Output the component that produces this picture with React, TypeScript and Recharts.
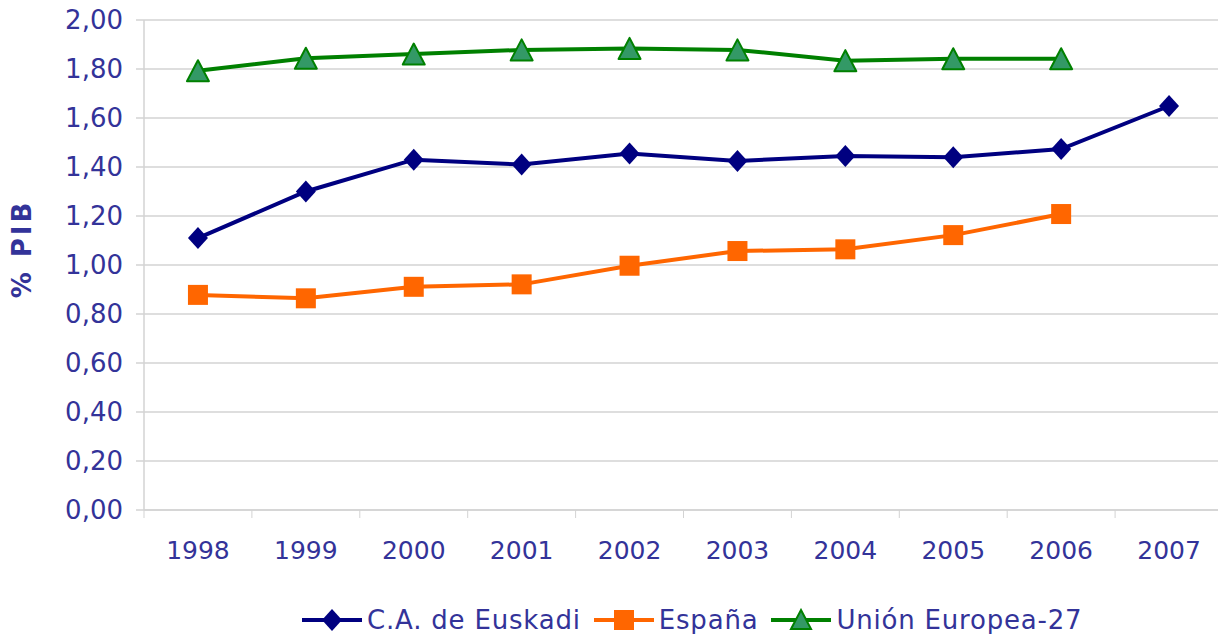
import { LineChart, Line, XAxis, YAxis, CartesianGrid, Legend, Label } from 'recharts'

const years = ['1998', '1999', '2000', '2001', '2002', '2003', '2004', '2005', '2006', '2007']
const euskadi = [1.11, 1.3, 1.43, 1.41, 1.455, 1.425, 1.445, 1.44, 1.473, 1.649]
const espana = [0.878, 0.864, 0.911, 0.921, 0.997, 1.057, 1.064, 1.122, 1.208, null]
const ue27 = [1.793, 1.844, 1.861, 1.878, 1.884, 1.878, 1.834, 1.842, 1.842, null]
const yTicks = [0, 0.2, 0.4, 0.6, 0.8, 1, 1.2, 1.4, 1.6, 1.8, 2]

const data = years.map((year, i) => ({
  year,
  euskadi: euskadi[i],
  espana: espana[i],
  ue27: ue27[i],
}))

const FONT = '"DejaVu Sans", Verdana, sans-serif'
const TEXT = '#333399'
const GRID = '#d3d3d3'
const NAVY = '#000080'
const ORANGE = '#ff6600'
const GREEN = '#008000'
const GREEN_FILL = '#339966'

const STEP = 1079 / years.length
const TICK_SIZE = 8
const TICK_MARGIN = 23

const fmt = (v: number) => v.toFixed(2).replace('.', ',')

function Diamond({ cx, cy }: any) {
  if (cx == null || cy == null) return null
  return <polygon points={`${cx},${cy - 11} ${cx + 10},${cy} ${cx},${cy + 11} ${cx - 10},${cy}`} fill={NAVY} />
}

function Square({ cx, cy }: any) {
  if (cx == null || cy == null) return null
  return <rect x={cx - 10} y={cy - 10} width={20} height={20} fill={ORANGE} />
}

function Triangle({ cx, cy }: any) {
  if (cx == null || cy == null) return null
  return (
    <polygon
      points={`${cx},${cy - 10.5} ${cx + 11},${cy + 10.5} ${cx - 11},${cy + 10.5}`}
      fill={GREEN_FILL}
      stroke={GREEN}
      strokeWidth={2}
      strokeLinejoin="round"
    />
  )
}

// category labels plus Excel-style tick marks between the categories
function YearTick({ x, y, payload, index }: any) {
  const axisY = y - TICK_SIZE - TICK_MARGIN
  const left = x - STEP / 2
  return (
    <g>
      <line x1={left} y1={axisY} x2={left} y2={axisY + TICK_SIZE} stroke={GRID} />
      {index === years.length - 1 && (
        <line x1={x + STEP / 2} y1={axisY} x2={x + STEP / 2} y2={axisY + TICK_SIZE} stroke={GRID} />
      )}
      <text x={x} y={y} dy="0.71em" textAnchor="middle" fill={TEXT} fontSize={25} fontFamily={FONT}>
        {payload.value}
      </text>
    </g>
  )
}

const legendItems = [
  { label: 'C.A. de Euskadi', color: NAVY, shape: 'diamond' },
  { label: 'España', color: ORANGE, shape: 'square' },
  { label: 'Unión Europea-27', color: GREEN, shape: 'triangle' },
]

function LegendIcon({ color, shape }: { color: string; shape: string }) {
  return (
    <svg width={60} height={24} style={{ display: 'block' }}>
      <line x1={0} y1={12} x2={60} y2={12} stroke={color} strokeWidth={4} />
      {shape === 'diamond' && <polygon points="30,1 40,12 30,23 20,12" fill={NAVY} />}
      {shape === 'square' && <rect x={20} y={2} width={20} height={20} fill={ORANGE} />}
      {shape === 'triangle' && (
        <polygon points="30,2 40,21 20,21" fill={GREEN_FILL} stroke={GREEN} strokeWidth={2} />
      )}
    </svg>
  )
}

function ChartLegend() {
  return (
    <div
      style={{
        height: 40,
        paddingTop: 14,
        paddingLeft: 302,
        boxSizing: 'border-box',
        display: 'flex',
        alignItems: 'flex-start',
        fontFamily: FONT,
        fontSize: 26,
        letterSpacing: 0.8,
        color: TEXT,
      }}
    >
      {legendItems.map((item) => (
        <div key={item.label} style={{ display: 'flex', alignItems: 'center', height: 24, marginRight: 13 }}>
          <LegendIcon color={item.color} shape={item.shape} />
          <span style={{ marginLeft: 5, lineHeight: '24px', whiteSpace: 'nowrap' }}>{item.label}</span>
        </div>
      ))}
    </div>
  )
}

export default function App() {
  return (
    <div style={{ width: 1218, height: 634, overflow: 'hidden', background: '#fff' }}>
      <style>{'body{margin:0}'}</style>
      <LineChart width={1223} height={634} data={data} margin={{ top: 20, right: 0, left: 0, bottom: 24 }}>
        <CartesianGrid vertical={false} stroke={GRID} strokeWidth={1.5} />
        <XAxis
          dataKey="year"
          height={60}
          padding={{ left: STEP / 2, right: STEP / 2 }}
          axisLine={{ stroke: GRID, strokeWidth: 1.5 }}
          tickLine={false}
          tickSize={TICK_SIZE}
          tickMargin={TICK_MARGIN}
          interval={0}
          tick={<YearTick />}
        />
        <YAxis
          width={144}
          domain={[0, 2]}
          ticks={yTicks}
          interval={0}
          tickFormatter={fmt}
          axisLine={{ stroke: GRID, strokeWidth: 1.5 }}
          tickLine={{ stroke: GRID, strokeWidth: 1.5 }}
          tickSize={8}
          tickMargin={13}
          tick={{ fill: TEXT, fontSize: 26, fontFamily: FONT }}
        >
          <Label
            content={() => (
              <text
                x={22}
                y={249}
                transform="rotate(-90 22 249)"
                textAnchor="middle"
                dominantBaseline="central"
                fill={TEXT}
                fontSize={26}
                fontWeight="bold"
                letterSpacing={3}
                fontFamily={FONT}
              >
                % PIB
              </text>
            )}
          />
        </YAxis>
        <Legend
          verticalAlign="bottom"
          content={<ChartLegend />}
          wrapperStyle={{ left: 0, bottom: 0, width: 1218, height: 40 }}
        />
        <Line
          dataKey="euskadi"
          stroke={NAVY}
          strokeWidth={4}
          dot={<Diamond />}
          activeDot={false}
          isAnimationActive={false}
        />
        <Line
          dataKey="espana"
          stroke={ORANGE}
          strokeWidth={4}
          dot={<Square />}
          activeDot={false}
          isAnimationActive={false}
        />
        <Line
          dataKey="ue27"
          stroke={GREEN}
          strokeWidth={4}
          dot={<Triangle />}
          activeDot={false}
          isAnimationActive={false}
        />
      </LineChart>
    </div>
  )
}
